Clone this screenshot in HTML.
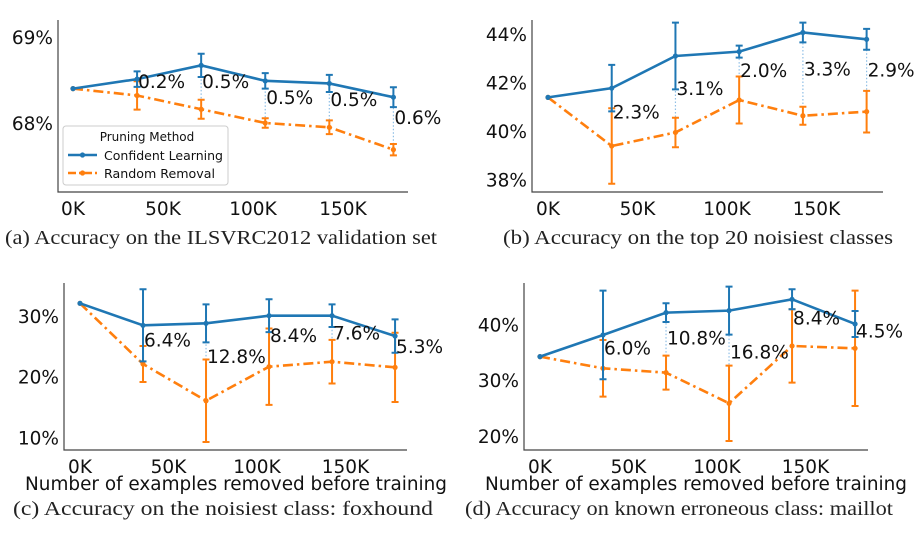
<!DOCTYPE html>
<html><head><meta charset="utf-8"><style>
body{margin:0;background:#fff;}
svg{display:block;}
.t{font-family:"DejaVu Sans","Liberation Sans",sans-serif;fill:#111;}
.cap{font-family:"Liberation Serif","DejaVu Serif",serif;fill:#222;}
</style></head><body>
<svg id="fig" width="923" height="536" viewBox="0 0 923 536"></svg>
<script>
const xK = [0, 35.6, 71.2, 106.8, 142.4, 178];
const xTicks = [0, 50, 100, 150];
const xTickLabels = ["0K", "50K", "100K", "150K"];

const aCL = [68.40, 68.51, 68.67, 68.49, 68.46, 68.30];
const aCLerr = [0, 0.09, 0.135, 0.09, 0.10, 0.115];
const aRR = [68.40, 68.32, 68.16, 68.00, 67.95, 67.69];
const aRRerr = [0, 0.165, 0.11, 0.055, 0.08, 0.066];
const aLabels = ["", "0.2%", "0.5%", "0.5%", "0.5%", "0.6%"];
const aLabelY = [0, 68.49, 68.49, 68.30, 68.28, 68.07];
const aYTicks = [68, 69];

const bCL = [41.39, 41.77, 43.10, 43.28, 44.07, 43.79];
const bCLerr = [0, 0.96, 1.38, 0.25, 0.41, 0.43];
const bRR = [41.39, 39.38, 39.94, 41.28, 40.63, 40.80];
const bRRerr = [0, 1.56, 0.61, 0.97, 0.37, 0.86];
const bLabels = ["", "2.3%", "3.1%", "2.0%", "3.3%", "2.9%"];
const bLabelY = [0, 40.8, 41.77, 42.52, 42.59, 42.55];
const bYTicks = [38, 40, 42, 44];

const cCL = [32.09, 28.46, 28.79, 30.05, 30.05, 26.70];
const cCLerr = [0, 5.94, 3.13, 2.7, 1.87, 2.75];
const cRR = [32.09, 22.09, 16.04, 21.65, 22.47, 21.54];
const cRRerr = [0, 2.96, 6.8, 6.3, 3.6, 5.7];
const cLabels = ["", "6.4%", "12.8%", "8.4%", "7.6%", "5.3%"];
const cLabelY = [0, 26.15, 23.4, 26.87, 27.25, 25.05];
const cYTicks = [10, 20, 30];

const dCL = [34.21, 38.09, 42.09, 42.45, 44.48, 40.06];
const dCLerr = [0, 7.94, 1.67, 4.3, 1.79, 2.33];
const dRR = [34.21, 32.12, 31.34, 25.85, 36.12, 35.70];
const dRRerr = [0, 5.07, 3.05, 6.75, 6.57, 10.33];
const dLabels = ["", "6.0%", "10.8%", "16.8%", "8.4%", "4.5%"];
const dLabelY = [0, 35.88, 37.6, 35.1, 41.2, 38.87];
const dYTicks = [20, 30, 40];

const NS = "http://www.w3.org/2000/svg";
const svg = document.getElementById("fig");
const BLUE = "#1f77b4", ORANGE = "#ff7f0e";
function mk(tag, attrs, parent){
  const e = document.createElementNS(NS, tag);
  for (const k in attrs) e.setAttribute(k, attrs[k]);
  (parent || svg).appendChild(e);
  return e;
}

function panel(p){
  const g = mk("g", {});
  
  
  const X = k => p.x0 + k * p.pxK;
  const Y = v => p.yRef - (v - p.vRef) * p.pxV;
  const sp = mk("path", {d:`M${p.left},${p.top} L${p.left},${p.bottom} L${p.right},${p.bottom}`, fill:"none", stroke:"#444", "stroke-width":1.2}, g);
  
  
  p.yTicks.forEach(v => {
    const t = mk("text", {x:p.left-5, y:Y(v)+7, "text-anchor":"end", "font-size":18.5, class:"t"}, g);
    t.textContent = v + "%";
    
    
  });
  xTicks.forEach((k, i) => {
    const t = mk("text", {x:X(k), y:p.bottom+23, "text-anchor":"middle", "font-size":18.5, class:"t"}, g);
    t.textContent = xTickLabels[i];
    
    
  });
  xK.forEach((k, i) => {
    if (i === 0) return;
    const l = mk("line", {x1:X(k), x2:X(k), y1:Y(p.cl[i]), y2:Y(p.rr[i]), stroke:"#8fbfe6", "stroke-width":1.2, "stroke-dasharray":"1.5,2"}, g);
    
    
  });
  function series(vals, errs, color, dash, nm){
    errs.forEach((e, i) => {
      if (!e) return;
      const x = X(xK[i]);
      const eb = mk("path", {d:`M${x},${Y(vals[i]-e)} L${x},${Y(vals[i]+e)} M${x-3.5},${Y(vals[i]-e)} L${x+3.5},${Y(vals[i]-e)} M${x-3.5},${Y(vals[i]+e)} L${x+3.5},${Y(vals[i]+e)}`, stroke:color, "stroke-width":2, fill:"none"}, g);
      
      
    });
    const d = vals.map((v, i) => (i ? "L" : "M") + X(xK[i]) + "," + Y(v)).join(" ");
    const ln = mk("path", {d, stroke:color, "stroke-width":2.6, fill:"none", "stroke-dasharray":dash}, g);
    
    
    vals.forEach((v, i) => {
      const c = mk("circle", {cx:X(xK[i]), cy:Y(v), r:2.6, fill:color}, g);
      
      
    });
  }
  series(p.rr, p.rrErr, ORANGE, "10,4,2.5,4", "random-removal");
  series(p.cl, p.clErr, BLUE, "", "confident-learning");
  p.labels.forEach((s, i) => {
    if (!s) return;
    const t = mk("text", {x:X(xK[i])+1, y:Y(p.labelY[i])+7, "font-size":18.5, class:"t"}, g);
    t.textContent = s;
    
    
  });
  if (p.xlabel){
    const t = mk("text", {x:p.left-39, y:p.bottom+40, "font-size":18.5, class:"t", textLength:422, lengthAdjust:"spacingAndGlyphs"}, g);
    t.textContent = "Number of examples removed before training";
    
    
  }
  const cap = mk("text", {x:p.capX, y:p.capY, "font-size":20, class:"cap", textLength:p.capW, lengthAdjust:"spacingAndGlyphs"}, g);
  cap.textContent = p.caption;
  
  
}

panel({name:"panel-a", x0:73, pxK:1.8, yRef:123, vRef:68, pxV:86, left:58, right:408, top:20, bottom:192,
  cl:aCL, clErr:aCLerr, rr:aRR, rrErr:aRRerr, labels:aLabels, labelY:aLabelY, yTicks:aYTicks,
  caption:"(a) Accuracy on the ILSVRC2012 validation set", capX:5, capY:244, capW:432});
panel({name:"panel-b", x0:548, pxK:1.79, yRef:131, vRef:40, pxV:24.2, left:532, right:883, top:20, bottom:192,
  cl:bCL, clErr:bCLerr, rr:bRR, rrErr:bRRerr, labels:bLabels, labelY:bLabelY, yTicks:bYTicks,
  caption:"(b) Accuracy on the top 20 noisiest classes", capX:503, capY:244, capW:390});
panel({name:"panel-c", x0:80, pxK:1.77, yRef:316, vRef:30, pxV:6.07, left:64, right:407, top:283, bottom:450,
  cl:cCL, clErr:cCLerr, rr:cRR, rrErr:cRRerr, labels:cLabels, labelY:cLabelY, yTicks:cYTicks, xlabel:true,
  caption:"(c) Accuracy on the noisiest class: foxhound", capX:13, capY:515, capW:420});
panel({name:"panel-d", x0:540, pxK:1.77, yRef:324.3, vRef:40, pxV:5.583, left:524, right:868, top:283, bottom:450,
  cl:dCL, clErr:dCLerr, rr:dRR, rrErr:dRRerr, labels:dLabels, labelY:dLabelY, yTicks:dYTicks, xlabel:true,
  caption:"(d) Accuracy on known erroneous class: maillot", capX:465, capY:515, capW:428});

const lg = mk("g", {});


mk("rect", {x:63, y:126, width:165, height:59, rx:3, fill:"#fff", "fill-opacity":0.85, stroke:"#ccc", "stroke-width":1}, lg);
const lt = mk("text", {x:147, y:141, "text-anchor":"middle", "font-size":12, class:"t"}, lg);
lt.textContent = "Pruning Method";


[["Confident Learning", BLUE, "", 155, 119], ["Random Removal", ORANGE, "8,3,2,3", 173, 111]].forEach(e => {
  const l = mk("line", {x1:68, x2:97, y1:e[3], y2:e[3], stroke:e[1], "stroke-width":2.6, "stroke-dasharray":e[2]}, lg);
  
  
  mk("circle", {cx:82.5, cy:e[3], r:2.6, fill:e[1]}, lg);
  const t = mk("text", {x:104, y:e[3]+5, "font-size":12, class:"t", textLength:e[4], lengthAdjust:"spacingAndGlyphs"}, lg);
  t.textContent = e[0];
  
  
});
</script>
</body></html>
